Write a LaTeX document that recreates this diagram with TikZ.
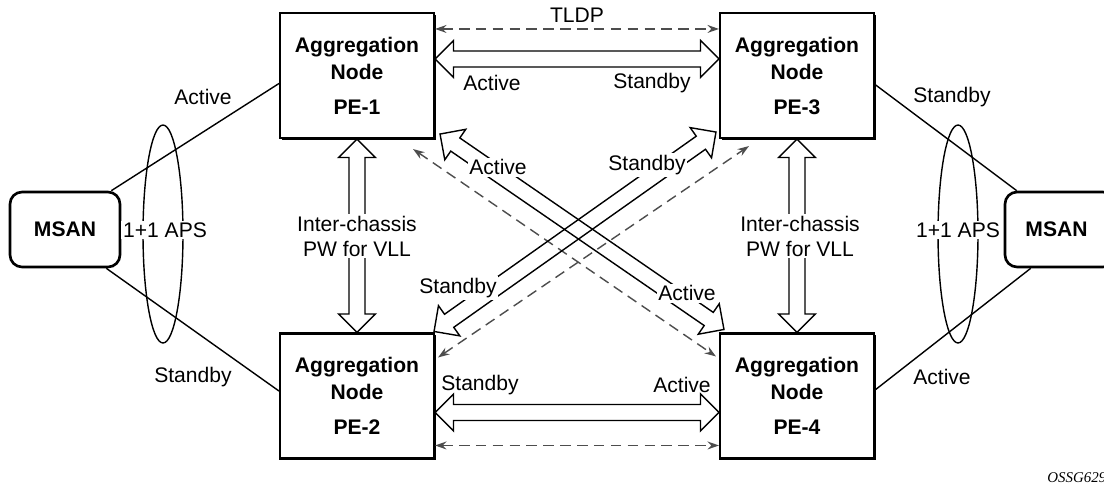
\documentclass[tikz,border=0pt]{standalone}
\usepackage{fontspec}
\setmainfont{Liberation Sans}
\newfontfamily\figfont{Liberation Serif}
\usepackage{xcolor}
\usetikzlibrary{positioning,arrows.meta,calc,shadows}

\definecolor{dashgray}{HTML}{4D4D4D}

% hollow double-headed arrow between two points
\newcommand{\hollowarrow}[2]{%
  \draw[hollow] (#1) -- ($(#1)!0.37cm!(#2)!0.37cm!90:(#2)$)
    -- ($(#1)!0.37cm!(#2)!0.16cm!90:(#2)$) -- ($(#2)!0.37cm!(#1)!0.16cm!-90:(#1)$)
    -- ($(#2)!0.37cm!(#1)!0.37cm!-90:(#1)$) -- (#2)
    -- ($(#2)!0.37cm!(#1)!0.37cm!90:(#1)$) -- ($(#2)!0.37cm!(#1)!0.16cm!90:(#1)$)
    -- ($(#1)!0.37cm!(#2)!0.16cm!-90:(#2)$) -- ($(#1)!0.37cm!(#2)!0.37cm!-90:(#2)$)
    -- cycle;}

\begin{document}
\begin{tikzpicture}[>=Stealth, x=0.02cm, y=-0.02cm,
  agg/.style={draw, fill=white, line width=1.2pt, minimum width=3.08cm, minimum height=2.5cm,
    align=center, font=\fontsize{12}{15.4}\selectfont\bfseries,
    drop shadow={shadow xshift=1pt, shadow yshift=-1pt, opacity=1, fill=black}},
  msan/.style={draw, fill=white, line width=1.5pt, rounded corners=0.24cm, minimum width=2.2cm,
    minimum height=1.5cm, font=\fontsize{12}{14}\selectfont\bfseries},
  link/.style={line width=0.8pt},
  hollow/.style={line width=0.8pt, line join=miter},
  ctrl/.style={<->, dashgray, line width=0.8pt, dash pattern=on 6pt off 3.6pt,
    >={Stealth[length=6.5pt,width=4.5pt]}},
  lbl/.style={font=\fontsize{12}{14.2}\selectfont, inner sep=1pt, text=black},
  wlbl/.style={lbl, fill=white, align=center}]

\useasboundingbox (0,0) rectangle (1104,487);

% Aggregation nodes
\node[agg] (pe1) at (357,75.5) {Aggregation\\Node\\[4.5pt]PE-1};
\node[agg] (pe3) at (797,75.5) {Aggregation\\Node\\[4.5pt]PE-3};
\node[agg] (pe2) at (357,396) {Aggregation\\Node\\[4.5pt]PE-2};
\node[agg] (pe4) at (797,396) {Aggregation\\Node\\[4.5pt]PE-4};

% MSAN nodes
\node[msan] (msanl) at (65,229.5) {MSAN};
\node[msan] (msanr) at (1060,229.5) {\hspace*{-4pt}MSAN};

% access links
\draw[link] ($(msanl.north east)+(-10,0)$) -- ($(pe1.west)+(0,8)$);
\draw[link] ($(msanl.south east)+(-15,0)$) -- ($(pe2.west)+(0,-5)$);
\draw[link] ($(msanr.north west)+(13,0)$) -- ($(pe3.east)+(0,9)$);
\draw[link] ($(msanr.south west)+(27,0)$) -- ($(pe4.east)+(0,-6)$);

% APS ellipses
\draw[link] (163,234) ellipse [x radius=0.4cm, y radius=2.18cm];
\draw[link] (958,234) ellipse [x radius=0.4cm, y radius=2.18cm];
\node[wlbl] (apsl) at (165,230) {1+1 APS};
\node[wlbl] (apsr) at (958,230) {1+1 APS};

% link labels
\node[lbl] (la1) at (203,97) {Active};
\node[lbl] (ls1) at (193,377) {Standby};
\node[lbl] (ls2) at (952,97) {Standby};
\node[lbl] (la2) at (942,377) {Active};

% TLDP sessions
\draw[ctrl] ($(pe1.north east)+(0,17)$) -- node[lbl, above=2pt] (tldp) {TLDP} ($(pe3.north west)+(0,17)$);
\draw[ctrl] ($(pe2.north east)+(0,113)$) -- ($(pe4.north west)+(0,113)$);
\draw[ctrl] ($(pe1.south east)+(-22,10)$) -- ($(pe4.north west)+(-3,24)$);
\draw[ctrl] ($(pe2.north east)+(3,25)$) -- ($(pe3.south west)+(30,7)$);

% pseudowires
\coordinate (h1a) at ($(pe1.north east)+(0,47)$);
\coordinate (h1b) at ($(pe3.north west)+(0,47)$);
\coordinate (h2a) at ($(pe2.north east)+(0,80)$);
\coordinate (h2b) at ($(pe4.north west)+(0,80)$);
\coordinate (d1a) at ($(pe1.south east)+(5,-5)$);
\coordinate (d1b) at ($(pe4.north west)+(5,-3)$);
\coordinate (d2a) at ($(pe2.north east)+(-1,-1)$);
\coordinate (d2b) at ($(pe3.south west)+(-3,-7)$);
\hollowarrow{h1a}{h1b}
\hollowarrow{h2a}{h2b}
\hollowarrow{pe1.south}{pe2.north}
\hollowarrow{pe3.south}{pe4.north}
\hollowarrow{d1a}{d1b}
\hollowarrow{d2a}{d2b}

% pseudowire labels
\node[lbl] (pa1) at (492,83) {Active};
\node[lbl] (ps1) at (652,83) {Standby};
\node[lbl] (ps2) at (480,385) {Standby};
\node[lbl] (pa2) at (682,385) {Active};
\node[wlbl] (icl) at (357,236) {Inter-chassis\\PW for VLL};
\node[wlbl] (icr) at (800,236) {Inter-chassis\\PW for VLL};
\node[wlbl] (da1) at (498,167) {Active};
\node[wlbl] (ds1) at (647,165) {Standby};
\node[wlbl] (ds2) at (458,288) {Standby};
\node[wlbl] (da2) at (687,293) {Active};

\node[anchor=west, inner sep=0pt, font=\figfont\itshape\fontsize{8.5}{10}\selectfont] (fig) at (1047,478) {OSSG629};

\end{tikzpicture}
\end{document}
